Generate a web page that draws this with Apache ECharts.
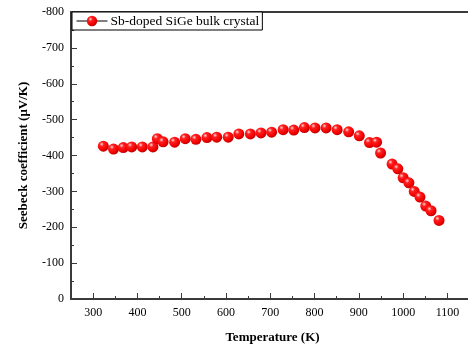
<!DOCTYPE html>
<html>
<head>
<meta charset="utf-8">
<script src="https://cdn.jsdelivr.net/npm/echarts@6/dist/echarts.min.js"></script>
<style>
  html, body { margin: 0; padding: 0; background: #fff; overflow: hidden; }
  #chart { width: 468px; height: 344px; }
</style>
</head>
<body>
<div id="chart"></div>
<script>
// temperature (K) and Seebeck coefficient (uV/K)
var temps = [323, 346, 368, 387, 411, 435, 445, 458, 484, 508, 532, 557, 579, 605,
  629, 655, 679, 703, 729, 753, 777, 801, 826, 851, 877, 901, 924, 940, 949,
  975, 988, 1000, 1013, 1025, 1038, 1051, 1063, 1081];
var seebeck = [-426, -418, -422, -424, -424, -424, -447, -438, -437, -447, -445, -450, -451, -451,
  -460, -460, -463, -465, -472, -471, -478, -477, -477, -472, -466, -455, -436, -437, -407,
  -376, -363, -338, -324, -300, -284, -259, -246, -219];
var xMajorTicks = [300, 400, 500, 600, 700, 800, 900, 1000, 1100];

var serif = 'Liberation Serif';
var axisColor = '#3a3a3a';

var ball = {
  type: 'radial',
  x: 0.35, y: 0.32, r: 0.7,
  colorStops: [
    { offset: 0, color: '#ffdcdc' },
    { offset: 0.28, color: '#ff2020' },
    { offset: 0.75, color: '#f20000' },
    { offset: 1, color: '#b80000' }
  ]
};

var points = temps.map(function (t, i) { return [t, seebeck[i]]; });

// frame runs past the right edge of the window, like the cropped original
var myChart = echarts.init(document.getElementById('chart'));
myChart.setOption({
  animation: false,
  backgroundColor: '#fff',
  grid: {
    left: 71, right: -6, top: 12, bottom: 45,
    outerBoundsMode: 'none'
  },
  legend: {
    left: 72, top: 12,
    data: ['Sb-doped SiGe bulk crystal'],
    itemWidth: 31, itemHeight: 13,
    padding: [2, 3, 2, 4],
    borderColor: '#000', borderWidth: 1, borderRadius: 0,
    backgroundColor: '#fff',
    lineStyle: { color: '#000', width: 1, opacity: 1 },
    textStyle: { fontFamily: serif, fontSize: 13.5, color: '#000', padding: [0, 0, 0, -2] }
  },
  xAxis: [
    {
      type: 'value', position: 'bottom',
      min: 250, max: 1160, interval: 50,
      name: 'Temperature (K)', nameLocation: 'middle', nameGap: 32,
      nameTextStyle: { fontFamily: serif, fontSize: 13, fontWeight: 'bold', color: '#000' },
      axisLine: { show: true, lineStyle: { color: axisColor, width: 2 } },
      axisTick: { show: true, inside: true, length: 3, lineStyle: { color: axisColor } },
      axisLabel: {
        fontFamily: serif, fontSize: 12, color: '#000', margin: 8,
        formatter: function (v) { return v % 100 === 0 ? String(v) : ''; }
      },
      splitLine: { show: false }
    },
    {
      // longer ticks at the labelled values
      type: 'value', position: 'bottom',
      min: 250, max: 1160,
      axisLine: { show: false },
      axisTick: { show: true, inside: true, length: 6, customValues: xMajorTicks,
        lineStyle: { color: axisColor } },
      axisLabel: { show: false },
      splitLine: { show: false }
    },
    {
      // plain frame line along the top
      type: 'value', position: 'top',
      min: 250, max: 1160,
      axisLine: { show: true, lineStyle: { color: axisColor, width: 2 } },
      axisTick: { show: false },
      axisLabel: { show: false },
      splitLine: { show: false }
    }
  ],
  yAxis: {
    type: 'value', inverse: true,
    min: -800, max: 0, interval: 100,
    name: 'Seebeck coefficient (\u03bcV/K)', nameLocation: 'middle', nameGap: 41,
    nameTextStyle: { fontFamily: serif, fontSize: 13, fontWeight: 'bold', color: '#000' },
    axisLine: { show: true, onZero: false, lineStyle: { color: axisColor, width: 2 } },
    axisTick: { show: true, inside: true, length: 6, lineStyle: { color: axisColor } },
    minorTick: { show: true, splitNumber: 2, length: 3, lineStyle: { color: axisColor } },
    axisLabel: { fontFamily: serif, fontSize: 12, color: '#000', margin: 7 },
    splitLine: { show: false }
  },
  series: [{
    name: 'Sb-doped SiGe bulk crystal',
    type: 'line',
    data: points,
    symbol: 'circle',
    symbolSize: 11,
    showAllSymbol: true,
    lineStyle: { width: 0, opacity: 0 },
    itemStyle: { color: ball }
  }]
});
</script>
</body>
</html>
